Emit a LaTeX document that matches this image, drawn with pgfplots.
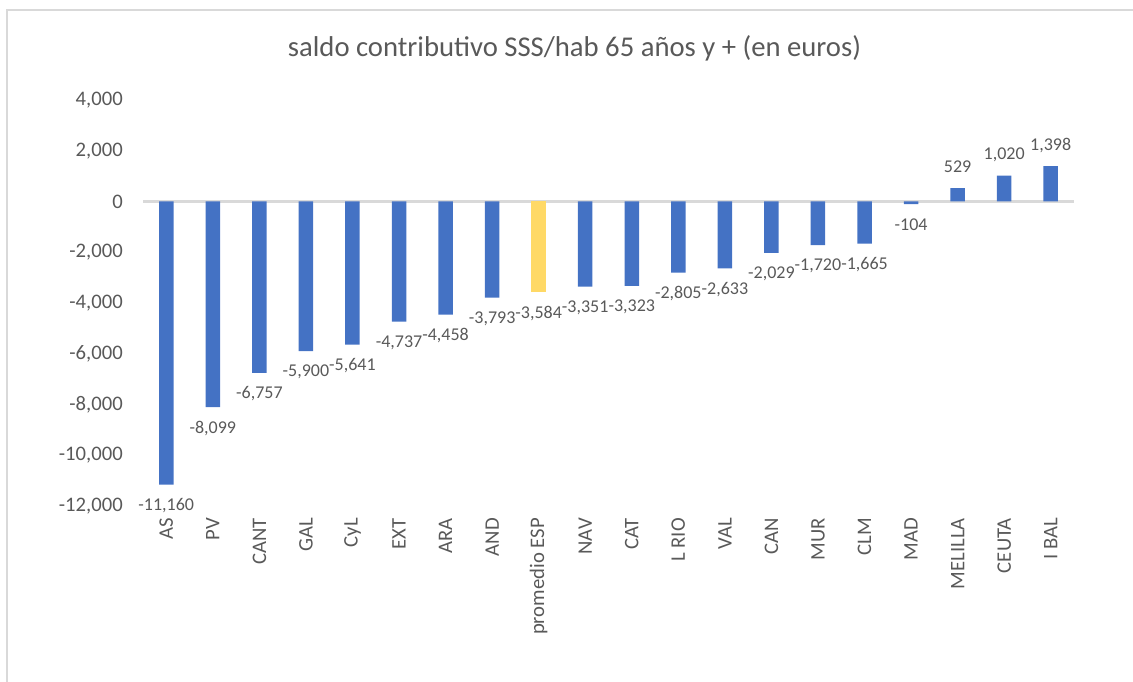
\documentclass[border=0pt]{standalone}
\usepackage{pgfplots}
\pgfplotsset{compat=1.18}
\usepackage{fontspec}
\setmainfont{Carlito}
\definecolor{barblue}{HTML}{4472C4}
\definecolor{baryellow}{HTML}{FFD966}
\definecolor{txt}{HTML}{595959}
\definecolor{lgray}{HTML}{D9D9D9}

\pgfplotstableread{
x y
0 -11160
1 -8099
2 -6757
3 -5900
4 -5641
5 -4737
6 -4458
7 -3793
9 -3351
10 -3323
11 -2805
12 -2633
13 -2029
14 -1720
15 -1665
16 -104
}\negdata
\pgfplotstableread{
x y
8 -3584
}\avgdata
\pgfplotstableread{
x y
17 529
18 1020
19 1398
}\posdata

\begin{document}
\begin{tikzpicture}
\useasboundingbox (0,0) rectangle (849.75pt,511.5pt);
\draw[lgray, line width=1.2pt] (5.25pt,-5pt) -- (5.25pt,504pt) -- (860pt,504pt);
\node[anchor=base, text=txt, font=\fontsize{21.5}{26}\selectfont, inner sep=0pt] at (430.9pt,468.75pt) {saldo contributivo SSS/hab 65 años y + (en euros)};
\begin{axis}[
  at={(107.25pt,132pt)}, anchor=south west, scale only axis,
  width=698.25pt, height=304.5pt,
  xmin=-0.5, xmax=19.5, ymin=-12000, ymax=4000,
  ytick={-12000,-10000,...,4000},
  xtick={0,...,19},
  xticklabels={AS,PV,CANT,GAL,CyL,EXT,ARA,AND,promedio ESP,NAV,CAT,L RIO,VAL,CAN,MUR,CLM,MAD,MELILLA,CEUTA,I BAL},
  scaled y ticks=false,
  axis line style={draw=none},
  major tick length=0pt,
  clip=false,
  /pgf/number format/.cd, 1000 sep={,}, assume math mode=true, fixed, precision=0,
  /pgfplots/.cd,
  yticklabel style={font=\fontsize{15.5}{18}\selectfont, text=txt, anchor=east, inner sep=0pt},
  yticklabel shift=15pt,
  xticklabel style={font=\fontsize{15.5}{18}\selectfont, text=txt, rotate=90, anchor=east, inner sep=0pt},
  xticklabel shift=9pt,
]
\draw[lgray, line width=1.6pt] (axis cs:-0.5,0) -- (axis cs:19.5,0);
\addplot[ybar, bar width=10.9pt, fill=barblue, draw=none,
  nodes near coords,
  nodes near coords style={font=\fontsize{13.5}{16}\selectfont, text=txt, anchor=center, yshift=-15.75pt, inner sep=0pt}]
  table[x=x, y=y] {\negdata};
\addplot[ybar, bar width=10.9pt, fill=baryellow, draw=none,
  nodes near coords,
  nodes near coords style={font=\fontsize{13.5}{16}\selectfont, text=txt, anchor=center, yshift=-15.75pt, inner sep=0pt}]
  table[x=x, y=y] {\avgdata};
\addplot[ybar, bar width=10.9pt, fill=barblue, draw=none,
  nodes near coords,
  nodes near coords style={font=\fontsize{13.5}{16}\selectfont, text=txt, anchor=center, yshift=15.75pt, inner sep=0pt}]
  table[x=x, y=y] {\posdata};
\end{axis}
\end{tikzpicture}
\end{document}
